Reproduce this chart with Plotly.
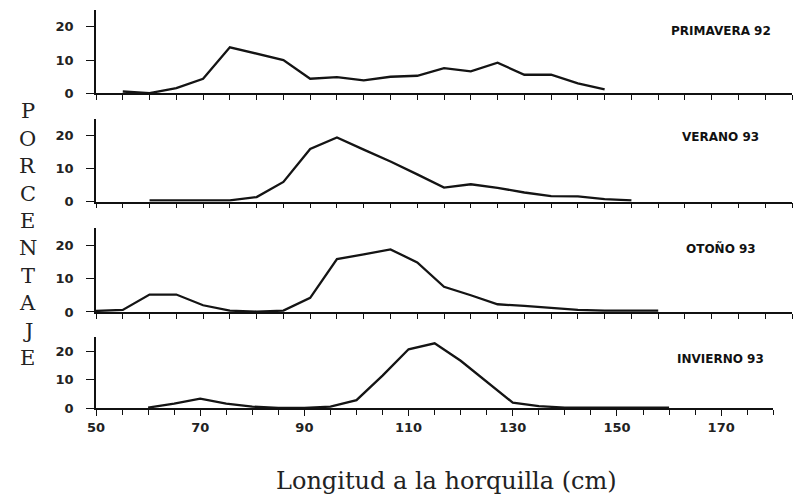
import plotly.graph_objects as go

# ---------------- data ----------------
prim_x = [55, 60, 65, 70, 75, 80, 85, 90, 95, 100, 105, 110, 115, 120, 125, 130, 135, 140, 145]
prim_y = [0.6, 0.1, 1.6, 4.4, 13.8, 11.8, 10.0, 4.4, 4.9, 3.9, 5.0, 5.3, 7.6, 6.6, 9.2, 5.6, 5.6, 3.0, 1.2]

ver_x = [60, 65, 70, 75, 80, 85, 90, 95, 100, 105, 110, 115, 120, 125, 130, 135, 140, 145, 150]
ver_y = [0.4, 0.4, 0.3, 0.4, 1.4, 6.0, 16.0, 19.5, 15.8, 12.2, 8.3, 4.3, 5.3, 4.2, 2.8, 1.7, 1.6, 0.8, 0.4]

oto_x = [50, 55, 60, 65, 70, 75, 80, 85, 90, 95, 100, 105, 110, 115, 120, 125, 130, 135, 140, 145, 150, 155]
oto_y = [0.3, 0.6, 5.2, 5.2, 2.0, 0.4, 0.1, 0.4, 4.2, 15.8, 17.2, 18.7, 14.8, 7.5, 5.0, 2.3, 1.8, 1.3, 0.6, 0.4, 0.4, 0.4]

inv_x = [60, 65, 70, 75, 80, 85, 90, 95, 100, 105, 110, 115, 120, 125, 130, 135, 140, 145, 150, 155, 160]
inv_y = [0.3, 1.7, 3.4, 1.7, 0.6, 0.2, 0.2, 0.6, 2.9, 11.5, 20.7, 22.8, 16.7, 9.2, 2.0, 0.8, 0.3, 0.3, 0.3, 0.3, 0.3]

panel_titles = ["PRIMAVERA 92", "VERANO 93", "OTOÑO 93", "INVIERNO 93"]
y_ticks = [0, 10, 20]
x_label_ticks = [50, 70, 90, 110, 130, 150, 170]
y_letters = list("PORCENTAJE")
x_title = "Longitud a la horquilla (cm)"

series = [(prim_x, prim_y), (ver_x, ver_y), (oto_x, oto_y), (inv_x, inv_y)]

# ---------------- layout geometry ----------------
W, H = 796, 502
y_domains = [
    [1 - 95 / H, 1 - 10 / H],
    [1 - 205 / H, 1 - 121.25 / H],
    [1 - 317 / H, 1 - 232 / H],
    [1 - 415 / H, 1 - 342.5 / H],
]
x_domains = [
    [88 / W, 792 / W],
    [88 / W, 792 / W],
    [88 / W, 792 / W],
    [88 / W, 773 / W],
]
title_y_px = [32, 139, 253, 365]

tick_font = dict(family="DejaVu Sans", size=13, color="#222222", weight="bold")

fig = go.Figure()
layout = dict(
    width=W, height=H, autosize=False,
    margin=dict(l=0, r=0, t=0, b=0),
    paper_bgcolor="white", plot_bgcolor="white",
    showlegend=False,
)

annotations = []
for i, (xs, ys) in enumerate(series):
    n = "" if i == 0 else str(i + 1)
    fig.add_trace(go.Scatter(
        x=xs, y=ys, mode="lines",
        line=dict(color="#141414", width=2.3),
        xaxis="x" + n, yaxis="y" + n,
        hoverinfo="skip",
    ))
    last = (i == 3)
    xa = dict(
        domain=x_domains[i], range=[50, 180], anchor="y" + n,
        showline=True, linecolor="#111111", linewidth=1.5,
        showgrid=False, zeroline=False,
        ticks="outside", ticklen=5, tickwidth=1.3, tickcolor="#111111",
        tick0=50, dtick=5, showticklabels=False,
    )
    if last:
        xa.update(
            tickmode="array", tickvals=x_label_ticks,
            ticklen=6, showticklabels=True, tickfont=tick_font,
            minor=dict(tickmode="linear", tick0=50, dtick=5, ticks="outside",
                       ticklen=5, tickwidth=1.3, tickcolor="#111111", showgrid=False),
        )
    ya = dict(
        domain=y_domains[i], range=[0, 25], anchor="x" + n,
        showline=True, linecolor="#111111", linewidth=1.5,
        showgrid=False, zeroline=False,
        ticks="outside", ticklen=8, tickwidth=1.3, tickcolor="#111111",
        tickmode="array", tickvals=y_ticks, tickfont=tick_font,
        ticklabelstandoff=10,
    )
    layout["xaxis" + n] = xa
    layout["yaxis" + n] = ya
    annotations.append(dict(
        text=panel_titles[i], xref="paper", yref="paper",
        x=720 / W, y=1 - title_y_px[i] / H, xanchor="center", yanchor="middle",
        showarrow=False, font=dict(family="DejaVu Sans", size=12, color="#111111", weight="bold"),
    ))

for k, ch in enumerate(y_letters):
    annotations.append(dict(
        text=ch, xref="paper", yref="paper",
        x=19 / W, y=1 - (113 + 27.9 * k) / H, xanchor="center", yanchor="middle",
        showarrow=False, font=dict(family="DejaVu Serif", size=21, color="#222222"),
    ))

annotations.append(dict(
    text=x_title, xref="paper", yref="paper",
    x=443 / W, y=1 - 489 / H, xanchor="center", yanchor="middle",
    showarrow=False, font=dict(family="DejaVu Serif", size=24, color="#222222"),
))

layout["annotations"] = annotations
fig.update_layout(**layout)
fig.write_html("out.html")
